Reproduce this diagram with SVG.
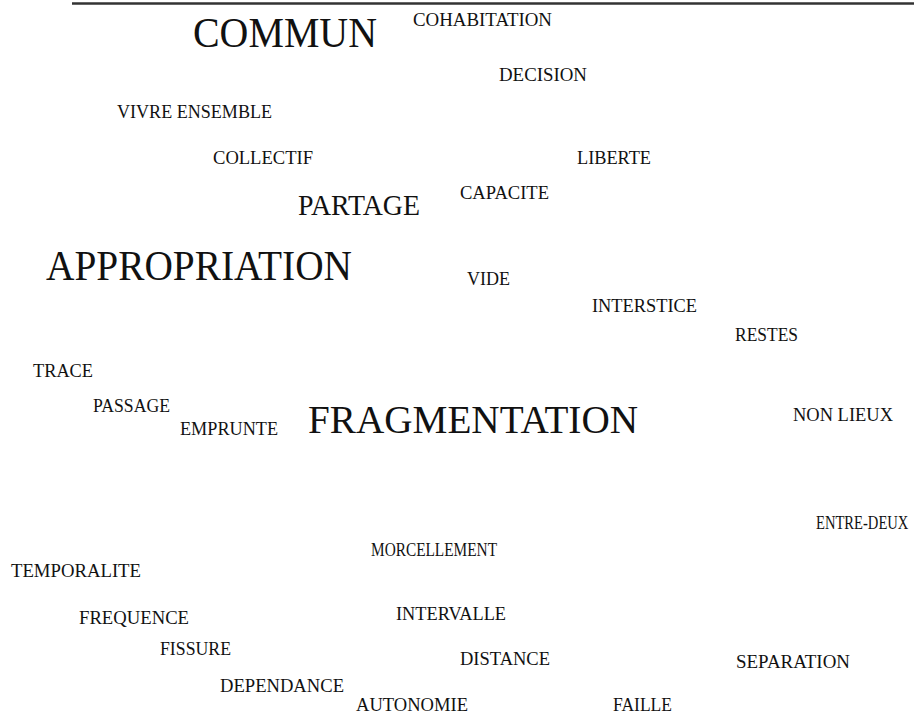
<svg xmlns="http://www.w3.org/2000/svg" width="914" height="715" viewBox="0 0 914 715">
<style>
text{font-family:"Liberation Serif","DejaVu Serif",serif;fill:#111}
.s{font-size:18.5px}
.m{font-size:30px}
.l{font-size:42px}
</style>
<rect width="914" height="715" fill="#fff"/>
<line x1="72" y1="3.5" x2="914" y2="3.5" stroke="#333" stroke-width="2.5"/>
<g id="words">
<text id="commun" class="l" x="193" y="47" textLength="184" lengthAdjust="spacingAndGlyphs" style="font-size:43px">COMMUN</text>
<text id="cohabitation" class="s" x="413" y="26" textLength="139" lengthAdjust="spacingAndGlyphs">COHABITATION</text>
<text id="decision" class="s" x="499" y="81" textLength="88" lengthAdjust="spacingAndGlyphs">DECISION</text>
<text id="vivre" class="s" x="117" y="118" textLength="155" lengthAdjust="spacingAndGlyphs">VIVRE ENSEMBLE</text>
<text id="collectif" class="s" x="213" y="164" textLength="100" lengthAdjust="spacingAndGlyphs">COLLECTIF</text>
<text id="liberte" class="s" x="577" y="164" textLength="74" lengthAdjust="spacingAndGlyphs">LIBERTE</text>
<text id="capacite" class="s" x="460" y="199" textLength="89" lengthAdjust="spacingAndGlyphs">CAPACITE</text>
<text id="partage" class="m" x="298" y="215" textLength="122" lengthAdjust="spacingAndGlyphs">PARTAGE</text>
<text id="appropriation" class="l" x="46" y="280" textLength="306" lengthAdjust="spacingAndGlyphs">APPROPRIATION</text>
<text id="vide" class="s" x="467" y="285" textLength="43" lengthAdjust="spacingAndGlyphs">VIDE</text>
<text id="interstice" class="s" x="592" y="312" textLength="105" lengthAdjust="spacingAndGlyphs">INTERSTICE</text>
<text id="restes" class="s" x="735" y="341" textLength="63" lengthAdjust="spacingAndGlyphs">RESTES</text>
<text id="trace" class="s" x="33" y="377" textLength="60" lengthAdjust="spacingAndGlyphs">TRACE</text>
<text id="passage" class="s" x="93" y="412" textLength="77" lengthAdjust="spacingAndGlyphs">PASSAGE</text>
<text id="emprunte" class="s" x="180" y="435" textLength="98" lengthAdjust="spacingAndGlyphs">EMPRUNTE</text>
<text id="fragmentation" class="l" x="308" y="433" textLength="330" lengthAdjust="spacingAndGlyphs" style="font-size:40px">FRAGMENTATION</text>
<text id="nonlieux" class="s" x="793" y="421" textLength="100" lengthAdjust="spacingAndGlyphs">NON LIEUX</text>
<text id="entredeux" x="0" y="0" transform="translate(816 529) scale(1 1.27)" style="font-size:14.6px">ENTRE-DEUX</text>
<text id="morcellement" class="s" x="371" y="556" textLength="126" lengthAdjust="spacingAndGlyphs">MORCELLEMENT</text>
<text id="temporalite" class="s" x="11" y="577" textLength="130" lengthAdjust="spacingAndGlyphs">TEMPORALITE</text>
<text id="intervalle" class="s" x="396" y="620" textLength="110" lengthAdjust="spacingAndGlyphs">INTERVALLE</text>
<text id="frequence" class="s" x="79" y="624" textLength="110" lengthAdjust="spacingAndGlyphs">FREQUENCE</text>
<text id="fissure" class="s" x="160" y="655" textLength="71" lengthAdjust="spacingAndGlyphs">FISSURE</text>
<text id="distance" class="s" x="460" y="665" textLength="90" lengthAdjust="spacingAndGlyphs">DISTANCE</text>
<text id="separation" class="s" x="736" y="668" textLength="114" lengthAdjust="spacingAndGlyphs">SEPARATION</text>
<text id="dependance" class="s" x="220" y="692" textLength="124" lengthAdjust="spacingAndGlyphs">DEPENDANCE</text>
<text id="autonomie" class="s" x="356" y="711" textLength="112" lengthAdjust="spacingAndGlyphs">AUTONOMIE</text>
<text id="faille" class="s" x="613" y="711" textLength="59" lengthAdjust="spacingAndGlyphs">FAILLE</text>
</g>
</svg>
